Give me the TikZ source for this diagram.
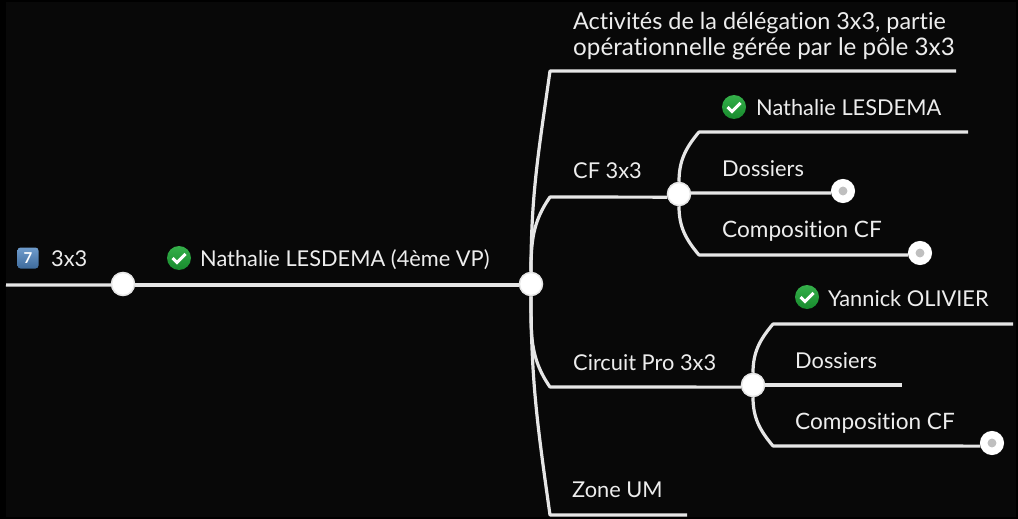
\documentclass[tikz,border=0pt]{standalone}
\usepackage{fontspec}
\setmainfont{Lato}[Ligatures=NoCommon]
\definecolor{bgdark}{HTML}{080808}
\definecolor{linegray}{HTML}{E6E6E6}
\definecolor{okgreentop}{HTML}{35B04A}
\definecolor{okgreenbot}{HTML}{178A2D}
\definecolor{numbluetop}{HTML}{6F9CCC}
\definecolor{numbluebot}{HTML}{3E6B9C}
\tikzset{
  branch/.style = {draw=linegray, line width=3.2pt, line join=round},
  junction/.style = {circle, draw=linegray, line width=1.5pt, fill=white,
    minimum size=23pt, inner sep=0pt},
  leafend/.style = {circle, draw=white, line width=7.5pt, fill=lightgray,
    minimum size=16.5pt, inner sep=0pt},
  label/.style = {anchor=base west, inner sep=0pt, text=white!93!black,
    font=\fontsize{21.8}{26}\selectfont, align=left},
  widelabel/.style = {label, font=\fontsize{22.6}{26}\selectfont},
  okicon/.style = {circle, minimum size=24pt, inner sep=0pt,
    top color=okgreentop, bottom color=okgreenbot,
    path picture={\draw[white, line width=3pt]
      ([shift={(-6.5pt,0pt)}]path picture bounding box.center)
      -- ++(4.5pt,-4.5pt) -- ++(8.5pt,8.5pt);}},
  numicon/.style = {rounded corners=3pt, minimum size=21pt, inner sep=0pt,
    top color=numbluetop, bottom color=numbluebot,
    text=white, font=\bfseries\fontsize{15}{15}\selectfont}
}
\begin{document}
\begin{tikzpicture}[x=1pt, y=-1pt]
  \useasboundingbox[fill=black] (0,0) rectangle (1018,519);
  \fill[bgdark] (6,2) rectangle (1016,517);

  % main line
  \node[junction] (root) at (123,284) {};
  \node[junction] (hub) at (531,284) {};
  \coordinate (start) at (6,285);
  \draw[branch] (start) -- (root.185);
  \draw[branch] (root.-5) -- (hub.185);
  \node[numicon] (seven) at (28,258) {7};
  \node[label] (topic) at (51,266) {3x3};
  \node[okicon] (okhub) at (179,258) {};
  \node[label] (vp) at (200,266) {Nathalie LESDEMA (4ème VP)};

  % first level
  \coordinate (bendA) at (550,71);
  \coordinate (endA) at (956,71);
  \coordinate (bendB) at (550,197);
  \coordinate (bendC) at (550,387);
  \coordinate (bendD) at (550,515);
  \coordinate (endD) at (687,515);
  \node[junction] (cf) at (679,194) {};
  \node[junction] (pro) at (753,385) {};
  \draw[branch] (hub) to[out=90, in=-98] (bendA) -- (endA);
  \draw[branch] (hub) to[out=90, in=-125] (bendB) -- (cf.195);
  \draw[branch] (hub) to[out=-90, in=125] (bendC) -- (pro.190);
  \draw[branch] (hub) to[out=-90, in=98] (bendD) -- (endD);
  \node[label, anchor=south west] (activ) at (573,60)
    {\fontsize{23.4}{26}\selectfont Activités de la délégation 3x3, partie\\
     \fontsize{24.2}{26}\selectfont opérationnelle gérée par le pôle 3x3};
  \node[label] (cflabel) at (573,178) {CF 3x3};
  \node[label] (prolabel) at (573,370) {Circuit Pro 3x3};
  \node[label] (zone) at (572,497) {Zone UM};

  % CF 3x3
  \coordinate (bendE) at (699,132);
  \coordinate (endE) at (968,132);
  \coordinate (bendF) at (699,255);
  \node[leafend] (endF) at (843,191) {};
  \node[leafend] (endG) at (920,253) {};
  \draw[branch] (cf) to[out=90, in=-130] (bendE) -- (endE);
  \draw[branch] (cf.5) -- (endF.190);
  \draw[branch] (cf) to[out=-90, in=130] (bendF) -- (endG.190);
  \node[okicon] (okcf) at (734,107) {};
  \node[label] (nathalie) at (756,115) {Nathalie LESDEMA};
  \node[label] (doscf) at (722,176) {Dossiers};
  \node[widelabel] (compcf) at (722,237) {Composition CF};

  % Circuit Pro 3x3
  \coordinate (bendH) at (773,324);
  \coordinate (endH) at (1013,324);
  \coordinate (endI) at (902,385);
  \coordinate (bendJ) at (773,446);
  \node[leafend] (endJ) at (992,443) {};
  \draw[branch] (pro) to[out=90, in=-130] (bendH) -- (endH);
  \draw[branch] (pro) -- (endI);
  \draw[branch] (pro) to[out=-90, in=130] (bendJ) -- (endJ.195);
  \node[okicon] (okpro) at (807,297) {};
  \node[label] (yannick) at (828,306) {Yannick OLIVIER};
  \node[label] (dospro) at (795,368) {Dossiers};
  \node[widelabel] (comppro) at (795,429) {Composition CF};
\end{tikzpicture}
\end{document}
